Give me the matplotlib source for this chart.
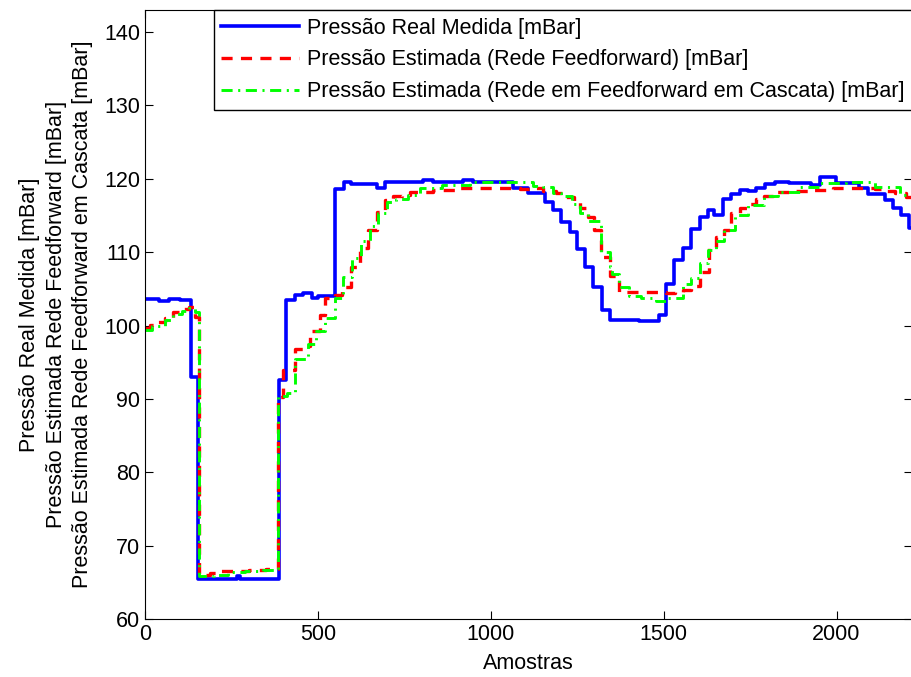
import matplotlib
matplotlib.use('Agg')
import matplotlib.pyplot as plt

plt.rcParams['font.family'] = ['Liberation Sans', 'DejaVu Sans']
plt.rcParams['lines.scale_dashes'] = False

# pressão real medida (degraus: início de cada degrau, valor)
real_x = [0, 40, 70, 100, 132, 154, 265, 275, 388, 409,
          434, 458, 482, 501, 549, 575, 597, 670, 694, 804,
          833, 920, 949, 1065, 1108, 1156, 1180, 1204, 1228, 1249,
          1273, 1295, 1321, 1345, 1400, 1430, 1487, 1507, 1531, 1556,
          1580, 1604, 1628, 1647, 1671, 1695, 1720, 1744, 1768, 1792,
          1821, 1864, 1927, 1951, 1999, 2066, 2090, 2139, 2163, 2187,
          2211, 2230]
real_y = [103.6, 103.4, 103.6, 103.5, 93.0, 65.5, 65.8, 65.5, 92.6, 103.5,
          104.2, 104.4, 103.7, 104.0, 118.6, 119.5, 119.3, 118.7, 119.5, 119.9,
          119.5, 119.8, 119.6, 118.8, 118.0, 116.9, 115.7, 114.1, 112.8, 110.4,
          108.0, 105.3, 102.1, 100.7, 100.8, 100.6, 101.4, 105.7, 108.9, 110.5,
          113.2, 114.8, 115.7, 115.1, 117.2, 117.9, 118.5, 118.4, 118.8, 119.3,
          119.5, 119.4, 119.1, 120.2, 119.4, 118.8, 117.9, 117.1, 116.0, 115.1,
          113.3, 113.3]

# rede feedforward
ff_x = [0, 14, 34, 58, 82, 106, 128, 145, 156, 188,
        212, 250, 300, 350, 386, 400, 434, 463, 477, 506,
        520, 549, 569, 597, 622, 646, 670, 694, 718, 742,
        766, 834, 906, 1084, 1122, 1151, 1190, 1214, 1240, 1257,
        1280, 1300, 1320, 1346, 1370, 1440, 1478, 1507, 1532, 1556,
        1580, 1604, 1630, 1652, 1676, 1695, 1720, 1743, 1767, 1791,
        1815, 1883, 1917, 1989, 2110, 2134, 2170, 2200, 2230]
ff_y = [99.6, 100.1, 100.5, 101.0, 101.9, 102.2, 102.5, 101.2, 66.0, 66.3,
        66.5, 66.6, 66.7, 66.8, 90.3, 93.9, 96.8, 97.2, 99.2, 101.5,
        103.8, 104.2, 105.3, 108.0, 110.6, 113.0, 115.5, 117.1, 117.6, 117.8,
        118.2, 118.5, 118.8, 118.6, 118.7, 118.4, 118.0, 117.5, 116.8, 116.0,
        114.8, 113.0, 109.4, 106.7, 104.6, 104.5, 104.5, 104.4, 104.5, 104.8,
        105.4, 107.3, 110.5, 112.0, 113.0, 115.4, 116.0, 116.6, 117.2, 117.6,
        118.2, 118.3, 118.5, 118.8, 118.6, 118.4, 118.0, 117.5, 117.5]

# rede feedforward em cascata
cc_x = [0, 20, 58, 82, 106, 128, 145, 156, 200, 240,
        290, 340, 386, 412, 434, 470, 495, 520, 549, 573,
        600, 626, 650, 675, 700, 725, 760, 795, 860, 940,
        1050, 1122, 1151, 1180, 1204, 1235, 1257, 1280, 1320, 1344,
        1350, 1370, 1400, 1435, 1478, 1508, 1556, 1580, 1604, 1628,
        1652, 1676, 1705, 1743, 1791, 1830, 1893, 1951, 2028, 2110,
        2183, 2230]
cc_y = [99.4, 99.9, 100.8, 101.6, 102.0, 102.4, 101.8, 65.8, 66.0, 66.4,
        66.6, 66.7, 90.4, 90.8, 95.5, 97.5, 99.2, 101.0, 103.7, 106.6,
        109.2, 111.5, 113.5, 115.3, 116.8, 117.3, 117.8, 118.8, 119.1, 119.5,
        119.6, 119.0, 118.9, 118.0, 117.6, 116.5, 115.3, 114.3, 110.0, 108.0,
        107.0, 105.3, 104.0, 103.7, 103.3, 103.7, 105.7, 106.5, 108.5, 110.3,
        111.5, 113.0, 115.0, 116.4, 117.7, 118.2, 118.9, 119.4, 119.5, 118.9,
        117.8, 117.8]

fig = plt.figure(figsize=(9.12, 6.77), dpi=100)
ax = fig.add_axes([0.159, 0.0857, 0.8405, 0.8995])

ax.plot(real_x, real_y, drawstyle='steps-post', color='#0000ff', linewidth=2.6,
        label='Pressão Real Medida [mBar]')
ax.plot(ff_x, ff_y, drawstyle='steps-post', color='#ff0000', linewidth=2.4,
        dashes=(8, 6), label='Pressão Estimada (Rede Feedforward) [mBar]')
ax.plot(cc_x, cc_y, drawstyle='steps-post', color='#00ff00', linewidth=2.1,
        dashes=(8, 4, 1.5, 4), label='Pressão Estimada (Rede em Feedforward em Cascata) [mBar]')

ax.set_xlim(0, 2217)
ax.set_ylim(60, 143)
ax.set_xticks([0, 500, 1000, 1500, 2000])
ax.set_yticks(range(60, 141, 10))
ax.tick_params(direction='in', top=True, right=True, labelsize=15.5, length=6)
ax.set_xlabel('Amostras', fontsize=15.5, labelpad=6)
ax.set_ylabel('Pressão Real Medida [mBar]\nPressão Estimada Rede Feedforward [mBar]\n'
              'Pressão Estimada Rede Feedforward em Cascata [mBar]', fontsize=15.5,
              linespacing=1.33, labelpad=8)

leg = ax.legend(loc='upper right', fontsize=15.5, borderaxespad=0, fancybox=False,
                framealpha=1, edgecolor='black', handlelength=3.6, labelspacing=0.5,
                borderpad=0.35, handletextpad=0.35)
leg.get_frame().set_linewidth(1.0)

fig.savefig('out.png', dpi=100)
